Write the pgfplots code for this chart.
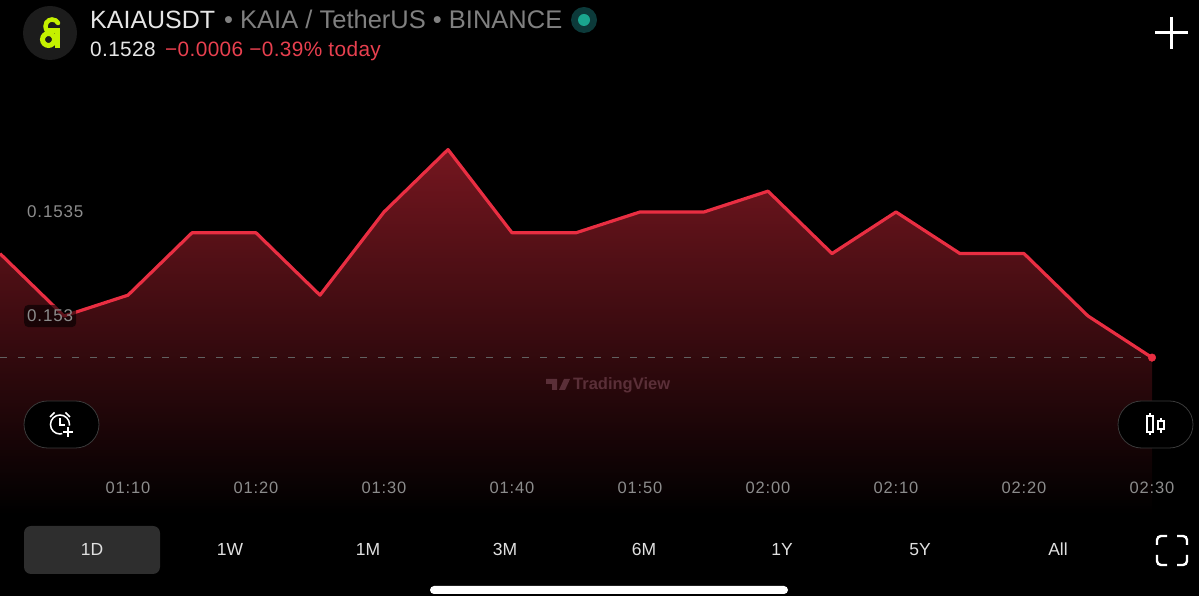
\documentclass[border=0pt]{standalone}
\usepackage{fontspec}
\usepackage{pgfplots}
\usepackage{pgfplotstable}
\pgfplotsset{compat=1.18}
\setmainfont{Liberation Sans}
\newfontfamily\tickfont[LetterSpace=5]{Liberation Sans}
\newfontfamily\pricefont[LetterSpace=1.8]{Liberation Sans}

\definecolor{linered}{HTML}{E92E42}
\definecolor{areatop}{HTML}{74161F}
\definecolor{ticktxt}{HTML}{8C8C8C}
\definecolor{headgray}{HTML}{808080}
\definecolor{headwhite}{HTML}{E6E6E6}
\definecolor{headred}{HTML}{E8404F}
\definecolor{btnedge}{HTML}{3A3A3A}
\definecolor{lime}{RGB}{196,240,0}
\definecolor{wmark}{HTML}{5A2F38}

% minutes since 00:00, price
\pgfplotstableread{
t price
60 0.1533
65 0.1530
70 0.1531
75 0.1534
80 0.1534
85 0.1531
90 0.1535
95 0.1538
100 0.1534
105 0.1534
110 0.1535
115 0.1535
120 0.1536
125 0.1533
130 0.1535
135 0.1533
140 0.1533
145 0.1530
150 0.1528
}\pricedata

\pgfplotstableread{
t price
60 0.1533
65 0.1530
70 0.1531
75 0.1534
80 0.1534
85 0.1531
90 0.1535
95 0.1538
100 0.1534
105 0.1534
110 0.1535
115 0.1535
120 0.1536
125 0.1533
130 0.1535
135 0.1533
140 0.1533
145 0.1530
150 0.1528
150 0.15205
60 0.15205
}\areadata

\begin{document}
\begin{tikzpicture}
\useasboundingbox (0,0) rectangle (1199pt,596pt);
\begin{axis}[
  at={(0,0)}, anchor=south west,
  scale only axis, width=1199pt, height=596pt,
  xmin=60, xmax=153.67,
  ymin=0.151654, ymax=0.154519,
  axis on top,
  axis background/.style={fill=black},
  axis line style={draw=none},
  major tick length=0pt,
  xtick={70,80,...,150},
  xticklabels={01:10,01:20,01:30,01:40,01:50,02:00,02:10,02:20,02:30},
  x tick label style={anchor=center, yshift=108pt, text=ticktxt, font=\tickfont\fontsize{16.5}{18}\selectfont},
  ytick={0.153,0.1535},
  yticklabels={0.153,0.1535},
  y tick label style={anchor=west, xshift=24pt, text=ticktxt, fill=black, fill opacity=0.6, text opacity=1,
    rounded corners=4pt, inner xsep=3pt, inner ysep=5pt, font=\tickfont\fontsize{17}{18}\selectfont},
]
\addplot[draw=none, top color=areatop, bottom color=black] table[x=t, y=price] {\areadata};
\addplot[dash pattern=on 7pt off 11pt, color=white!38!black, line width=1pt] coordinates {(60,0.1528) (150,0.1528)};
\addplot[color=linered, line width=3.2pt, line join=round] table[x=t, y=price] {\pricedata};
\addplot[only marks, mark=*, mark size=3.8pt, color=linered] coordinates {(150,0.1528)};
\end{axis}

% app chrome, positions in image pixels
\begin{scope}[x=1pt, y=-1pt, yshift=596pt]
  % logo
  \fill[white!11!black] (50,33) circle (27);
  \draw[lime, line width=5pt] (48.5,39.5) circle (6);
  \draw[lime, line width=5pt] (57.5,48) -- (57.5,31) -- (47,31);
  \draw[lime, line width=4.5pt, line cap=round] (47,31) .. controls (43,24) and (48,19.5) .. (52,19.5) .. controls (55,19.5) and (57,21) .. (58,23);
  % header text
  \node[anchor=base west, inner sep=0, text=headwhite, font=\fontsize{25}{28}\selectfont] at (90,29) {KAIAUSDT};
  \node[anchor=base west, inner sep=0, text=headgray, font=\fontsize{25.5}{28}\selectfont] at (224,29) {• KAIA / TetherUS • BINANCE};
  \node[anchor=base west, inner sep=0, text=headwhite, font=\pricefont\fontsize{20.8}{22}\selectfont] at (90,57) {0.1528};
  \node[anchor=base west, inner sep=0, text=headred, font=\pricefont\fontsize{20.8}{22}\selectfont] at (165,57) {−0.0006 −0.39\% today};
  \fill[fill={rgb,255:red,12;green,58;blue,58}] (584,20) circle (13);
  \fill[fill={rgb,255:red,26;green,165;blue,142}] (584,20) circle (6);
  % plus
  \draw[white, line width=3pt] (1155,33) -- (1188,33) (1171.5,17) -- (1171.5,49);
  % watermark
  \fill[wmark] (546,379) -- (557,379) -- (557,390) -- (552,390) -- (552,384) -- (546,384) -- cycle;
  \fill[wmark] (559,390) -- (564,379) -- (570,379) -- (565,390) -- cycle;
  \node[anchor=west, inner sep=0, text=wmark, font=\bfseries\fontsize{16.5}{18}\selectfont] at (573,385) {TradingView};
  % alert button
  \draw[btnedge, fill=black, line width=0.8pt, rounded corners=23.5pt] (24,401) rectangle (99,448);
  \draw[white, line width=1.5pt] (60,424.5) circle (9.5);
  \fill[black] (68.5,432) circle (6.5);
  \draw[white, line width=1.5pt] (60,418.5) -- (60,425) -- (65,425);
  \draw[white, line width=1.5pt] (50,417) -- (54.5,412.5) (65.5,412.5) -- (70,417);
  \draw[white, line width=1.5pt] (63,432) -- (73,432) (68,427) -- (68,437);
  % chart type button
  \draw[btnedge, fill=black, line width=0.8pt, rounded corners=23.5pt] (1118,401) rectangle (1193,448);
  \draw[white, line width=1.5pt] (1147,416) rectangle (1153,432) (1150,413) -- (1150,416) (1150,432) -- (1150,435);
  \draw[white, line width=1.5pt] (1158,421) rectangle (1164,429) (1161,418) -- (1161,421) (1161,429) -- (1161,433);
  % range buttons
  \fill[white!18!black, rounded corners=7pt] (24,526) rectangle (160,574);
  \foreach \xp/\lab in {92/1D,230/1W,368/1M,505/3M,644/6M,782/1Y,920/5Y,1058/All}
    \node[anchor=base, inner sep=0, text=white!88!black, font=\fontsize{17.5}{19}\selectfont] at (\xp,556) {\lab};
  % fullscreen
  \draw[white, line width=2.4pt, rounded corners=4pt]
    (1157,545) -- (1157,536) -- (1167,536)
    (1177,536) -- (1187,536) -- (1187,545)
    (1187,555) -- (1187,565) -- (1177,565)
    (1167,565) -- (1157,565) -- (1157,555);
  % home bar
  \fill[white, rounded corners=4pt] (430,586) rectangle (788,594);
\end{scope}
\end{tikzpicture}
\end{document}
